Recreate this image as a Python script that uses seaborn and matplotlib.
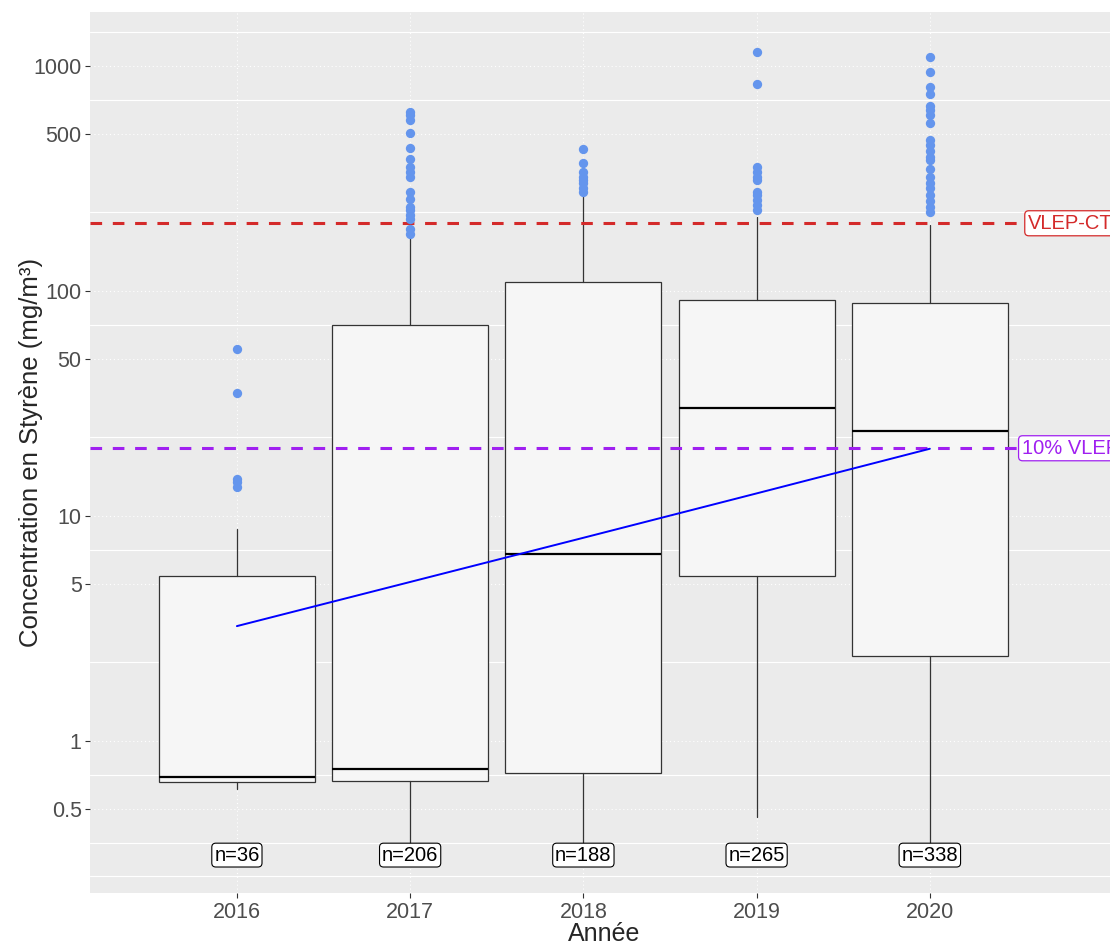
import numpy as np
import pandas as pd
import matplotlib
matplotlib.use("Agg")
import matplotlib.pyplot as plt
from matplotlib.ticker import FixedLocator, NullFormatter
import seaborn as sns

# Values (mg/m3, log scale)
years = ["2016", "2017", "2018", "2019", "2020"]
n_obs = [36, 206, 188, 265, 338]
whisker_low = [0.612, 0.30, 0.30, 0.458, 0.30]
q1 = [0.659, 0.667, 0.723, 5.41, 2.39]
median = [0.692, 0.748, 6.78, 30.2, 23.9]
q3 = [5.43, 70.6, 110, 91.2, 88.7]
whisker_high = [8.75, 172, 267, 213, 196]

out_2016 = [55.1, 35.2, 14.6, 14.1, 13.5]
out_2017 = [627, 605, 575, 502, 433, 386, 355, 339, 322, 276, 256, 237, 228,
            218, 210, 188, 179]
out_2018 = [426, 369, 339, 322, 311, 301, 286, 276]
out_2019 = [1150, 829, 357, 339, 322, 311, 276, 267, 253, 241, 229]
out_2020 = [1100, 940, 809, 751, 664, 637, 605, 556, 469, 445, 420, 396, 382,
            348, 322, 301, 286, 267, 250, 237, 225]
outliers = [out_2016, out_2017, out_2018, out_2019, out_2020]

# trend line (lm on log scale) read at each year
trend = [3.24, 5.09, 8.0, 12.6, 19.9]

vlep_ct = 200
vlep_10 = 20

major_ticks = [0.5, 1, 5, 10, 50, 100, 500, 1000]
major_labels = ["0.5", "1", "5", "10", "50", "100", "500", "1000"]


def setup_styling():
    sns.set_theme(style="darkgrid")
    plt.rcParams["font.family"] = ["Liberation Sans", "DejaVu Sans"]
    plt.rcParams["axes.facecolor"] = "#EBEBEB"


def main():
    setup_styling()
    fig = plt.figure(figsize=(11.1, 9.42), dpi=100)
    ax = fig.add_axes([90 / 1110, 1 - 893 / 942, 1 - 90 / 1110, 881 / 942])
    ax.set_yscale("log")

    pos = list(range(len(years)))

    stats = []
    for i, y in enumerate(years):
        stats.append({"label": y, "whislo": whisker_low[i], "q1": q1[i],
                      "med": median[i], "q3": q3[i], "whishi": whisker_high[i],
                      "fliers": []})
    ax.bxp(stats, positions=pos, widths=0.9, patch_artist=True,
           showfliers=False, showcaps=False, manage_ticks=False,
           boxprops=dict(facecolor="#F6F6F6", edgecolor="#333333", linewidth=0.9),
           medianprops=dict(color="black", linewidth=1.6),
           whiskerprops=dict(color="#333333", linewidth=0.9))

    # outliers
    out_df = pd.DataFrame({
        "pos": [p for p, vals in zip(pos, outliers) for _ in vals],
        "value": [v for vals in outliers for v in vals],
    })
    sns.scatterplot(data=out_df, x="pos", y="value", color="#6495ED", s=45,
                    linewidth=0, ax=ax, zorder=4, legend=False)

    # reference lines
    ax.axhline(vlep_ct, color="#D42A2A", lw=2.2, dashes=(3.8, 3.5), zorder=3)
    ax.axhline(vlep_10, color="#A020F0", lw=2.2, dashes=(3.8, 3.5), zorder=3)

    # trend line
    sns.lineplot(x=pos, y=trend, color="blue", lw=1.4, ax=ax, zorder=5)

    # labels for limits
    ax.text(4.81, vlep_ct, "VLEP-CT", ha="center", va="center", color="#D42A2A",
            fontsize=14.5, zorder=6, clip_on=False,
            bbox=dict(boxstyle="round,pad=0.15,rounding_size=0.2", fc="white",
                      ec="#D42A2A", lw=0.9))
    ax.text(4.81, vlep_10, "10% VLEP", ha="center", va="center", color="#A020F0",
            fontsize=14.5, zorder=6, clip_on=False,
            bbox=dict(boxstyle="round,pad=0.15,rounding_size=0.2", fc="white",
                      ec="#A020F0", lw=0.9))

    # sample sizes
    for p, n in zip(pos, n_obs):
        ax.text(p, 0.311, f"n={n}", ha="center", va="center", color="black",
                fontsize=14.5, zorder=7,
                bbox=dict(boxstyle="round,pad=0.12,rounding_size=0.2",
                          fc="white", ec="black", lw=0.8))

    ax.set_xlim(-0.848, 5.04)
    ax.set_ylim(0.211, 1738)

    ax.set_xticks(pos)
    ax.set_xticklabels(years)
    ax.set_yticks(major_ticks)
    ax.set_yticklabels(major_labels)
    minor = [10 ** v for v in [-0.602, -0.452, -0.1505, 0.3495, 0.8495, 1.3495,
                               1.8495, 2.3495, 2.8495, 3.1505]]
    ax.yaxis.set_minor_locator(FixedLocator(minor))
    ax.yaxis.set_minor_formatter(NullFormatter())

    ax.tick_params(which="major", length=3.5, width=0.8, color="#333333",
                   labelcolor="#4D4D4D", labelsize=15.5, pad=2.5)
    ax.tick_params(which="minor", length=0)
    ax.tick_params(axis="x", bottom=True, pad=3)
    ax.tick_params(axis="y", left=True)

    ax.grid(False)
    ax.grid(which="major", color="white", lw=0.8, ls=(0, (1, 2.5)))
    ax.grid(which="minor", axis="y", color="white", lw=0.85, ls="-")
    ax.set_axisbelow(True)
    for s in ax.spines.values():
        s.set_visible(False)

    ax.set_xlabel("")
    ax.set_ylabel("")
    fig.text(31 / 1110, 1 - 452 / 942, "Concentration en Styrène (mg/m³)",
             rotation=90, ha="center", va="center", fontsize=18.5)
    fig.text(604 / 1110, 1.0 / 942, "Année", ha="center", va="baseline",
             fontsize=18)

    fig.savefig("out.png", dpi=100)
    plt.close(fig)


if __name__ == "__main__":
    main()
